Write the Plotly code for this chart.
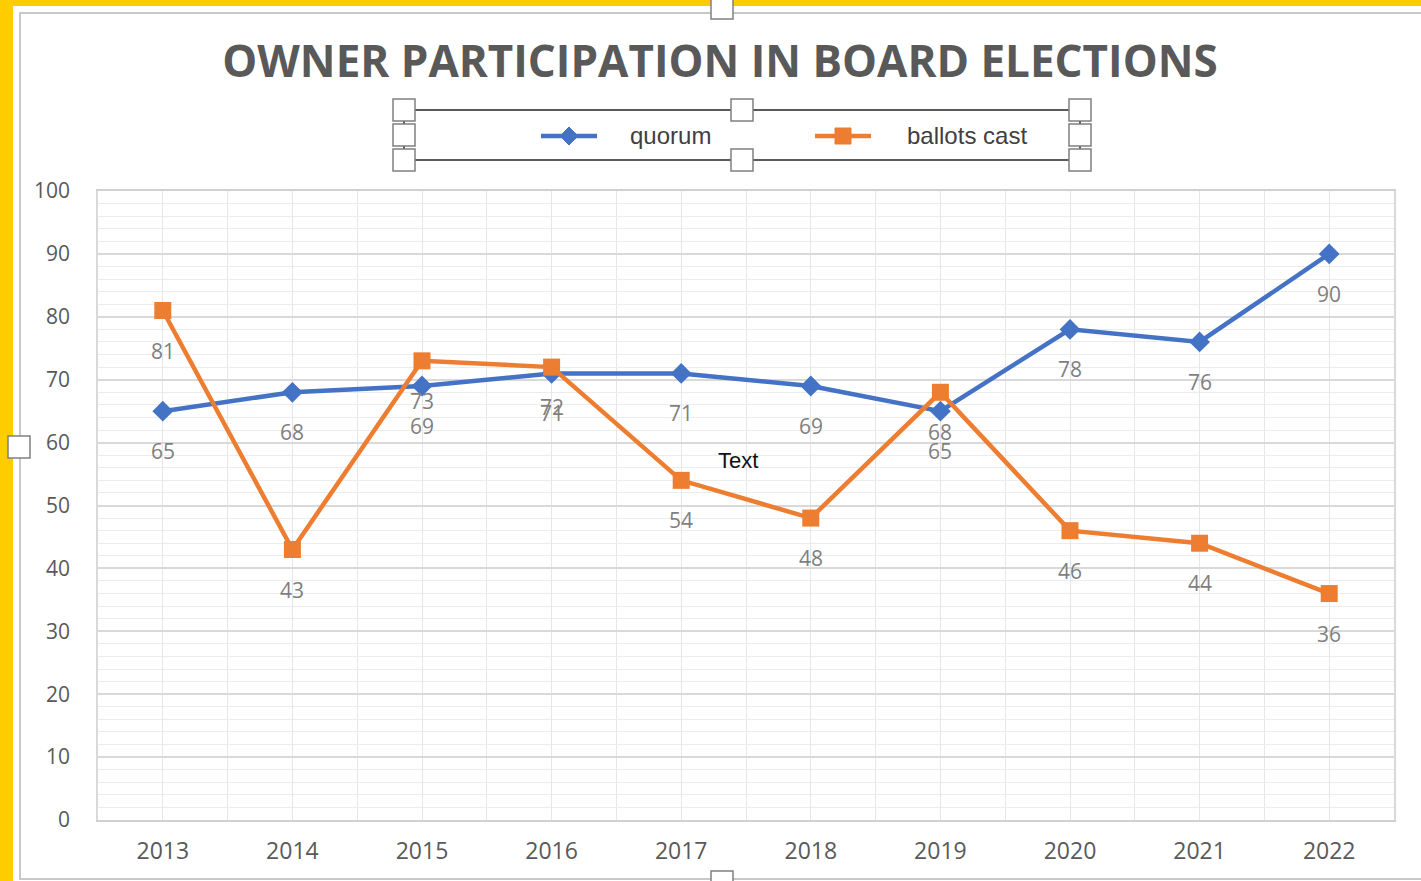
import plotly.graph_objects as go

years = [2013, 2014, 2015, 2016, 2017, 2018, 2019, 2020, 2021, 2022]
quorum = [65, 68, 69, 71, 71, 69, 65, 78, 76, 90]
ballots_cast = [81, 43, 73, 72, 54, 48, 68, 46, 44, 36]
y_ticks = [0, 10, 20, 30, 40, 50, 60, 70, 80, 90, 100]
series_names = ["quorum", "ballots cast"]
series_colors = ["#4472C4", "#ED7D31"]

W, H = 1421, 881
L, R, T, B = 98, 1394, 191, 820


def px(x):
    return (x - L) / (R - L)


def py(y):
    return (B - y) / (B - T)


fig = go.Figure()
fig.add_trace(go.Scatter(
    x=years, y=quorum, name=series_names[0], mode="lines+markers",
    line=dict(color=series_colors[0], width=4.5),
    marker=dict(symbol="diamond", size=16, color=series_colors[0]),
    showlegend=False,
))
fig.add_trace(go.Scatter(
    x=years, y=ballots_cast, name=series_names[1], mode="lines+markers",
    line=dict(color=series_colors[1], width=4.5),
    marker=dict(symbol="square", size=17, color=series_colors[1]),
    showlegend=False,
))

annotations = []
for series in (quorum, ballots_cast):
    for xv, yv in zip(years, series):
        annotations.append(dict(
            x=xv, y=yv, xref="x", yref="y", text=str(yv), showarrow=False,
            yshift=-40, font=dict(family="Open Sans", size=21, color="#7f7f7f"),
        ))
annotations.append(dict(
    x=px(738), y=py(460), xref="paper", yref="paper", text="Text", showarrow=False,
    font=dict(family="Liberation Sans", size=22, color="#111111"),
))

shapes = []
# white chart background over yellow border
shapes.append(dict(type="rect", xref="paper", yref="paper", layer="below",
                   x0=px(13), x1=px(1500), y0=py(6), y1=py(950),
                   fillcolor="white", line=dict(width=0)))
# chart area border
shapes.append(dict(type="rect", xref="paper", yref="paper", layer="below",
                   x0=px(20), x1=px(1460), y0=py(13), y1=py(879),
                   fillcolor="white", line=dict(color="#c8c8c8", width=2)))
# legend selection frame lines
for yy in (110, 160):
    shapes.append(dict(type="line", xref="paper", yref="paper",
                       x0=px(404), x1=px(1080), y0=py(yy), y1=py(yy),
                       line=dict(color="#5a5a5a", width=2)))
for xx in (404, 1080):
    shapes.append(dict(type="line", xref="paper", yref="paper",
                       x0=px(xx), x1=px(xx), y0=py(110), y1=py(160),
                       line=dict(color="#5a5a5a", width=2)))
handles = [(404, 110), (404, 135), (404, 160), (742, 110), (742, 160),
           (1080, 110), (1080, 135), (1080, 160),
           (722, 8), (19, 447), (722, 882)]
for hx, hy in handles:
    shapes.append(dict(type="rect", xref="paper", yref="paper",
                       x0=px(hx - 11), x1=px(hx + 11), y0=py(hy - 11), y1=py(hy + 11),
                       fillcolor="white", line=dict(color="#808080", width=1.5)))

# manual legend entries (line + marker + label)
legend_items = [(541, 597, 569, 628), (815, 871, 843, 905)]
for i, (lx0, lx1, mx, tx) in enumerate(legend_items):
    c = series_colors[i]
    shapes.append(dict(type="line", xref="paper", yref="paper",
                       x0=px(lx0), x1=px(lx1), y0=py(136), y1=py(136),
                       line=dict(color=c, width=4.5)))
    if i == 0:
        path = "M {} {} L {} {} L {} {} L {} {} Z".format(
            px(mx), py(127), px(mx + 9), py(136), px(mx), py(145), px(mx - 9), py(136))
        shapes.append(dict(type="path", xref="paper", yref="paper", path=path,
                           fillcolor=c, line=dict(color=c, width=1)))
    else:
        shapes.append(dict(type="rect", xref="paper", yref="paper",
                           x0=px(mx - 8), x1=px(mx + 8), y0=py(128), y1=py(144),
                           fillcolor=c, line=dict(color=c, width=1)))
    annotations.append(dict(
        x=px(tx), y=py(136), xref="paper", yref="paper", xanchor="left", yanchor="middle",
        text=series_names[i], showarrow=False,
        font=dict(family="Liberation Sans", size=24, color="#404040"),
    ))

fig.update_layout(
    width=W, height=H,
    paper_bgcolor="#FFCC00",
    plot_bgcolor="white",
    margin=dict(l=L, r=W - R, t=T, b=H - B, pad=0),
    title=dict(text="<b>OWNER PARTICIPATION IN BOARD ELECTIONS</b>",
               x=720 / W, xanchor="center", y=1 - 62 / H, yanchor="middle",
               font=dict(family="Open Sans", size=44, color="#595959")),
    showlegend=False,
    shapes=shapes,
    annotations=annotations,
    xaxis=dict(
        range=[2012.5, 2022.5], tickmode="array", tickvals=years,
        ticktext=[str(y) for y in years],
        showgrid=True, gridcolor="#e6e6e6", gridwidth=1,
        minor=dict(dtick=0.5, tick0=2012.5, showgrid=True, gridcolor="#e6e6e6", gridwidth=1),
        showline=True, linecolor="#d0d0d0", linewidth=2, mirror=True,
        ticks="", ticklabelstandoff=9,
        tickfont=dict(family="Open Sans", size=23, color="#595959"),
        zeroline=False,
    ),
    yaxis=dict(
        range=[0, 100], tickmode="array", tickvals=y_ticks,
        showgrid=True, gridcolor="#d9d9d9", gridwidth=1.5,
        minor=dict(dtick=2, showgrid=True, gridcolor="#ececec", gridwidth=1),
        showline=True, linecolor="#d9d9d9", linewidth=1.5, mirror=True,
        ticks="", ticklabelstandoff=22,
        tickfont=dict(family="Open Sans", size=21, color="#595959"),
        zeroline=False,
    ),
)

fig.write_html("out.html", config={"displayModeBar": False},
               post_script="document.body.style.margin='0';document.body.style.overflow='hidden';")
